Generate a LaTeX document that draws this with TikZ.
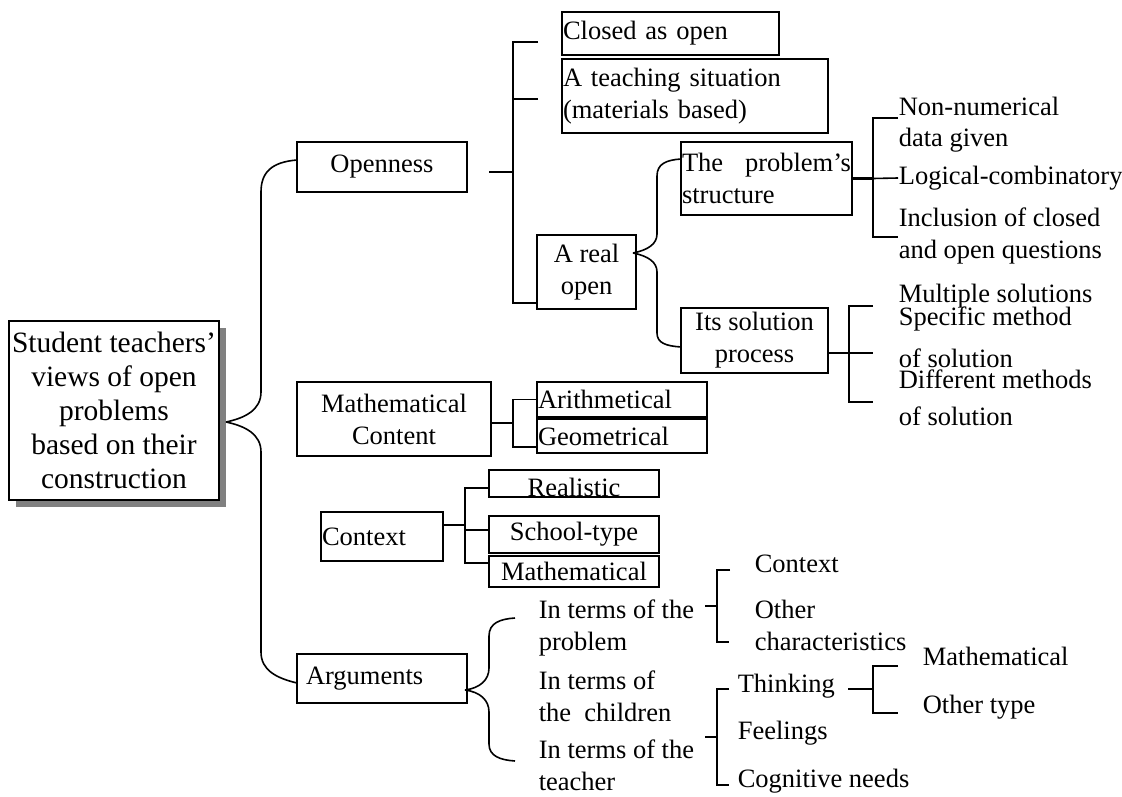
\documentclass[tikz,border=0pt]{standalone}
\usepackage{fontspec}
\setmainfont{Liberation Serif}
\usetikzlibrary{positioning,shadows}

\begin{document}
\begin{tikzpicture}[
    x = 1pt, y = -1pt, % one unit per pixel, y grows downwards
    line width = 1.6pt, % line style
    font = \fontsize{26.5}{32}\selectfont
    ]

    \tikzset{box/.style={
    draw = black,
    fill = white,
    inner xsep = 1pt,
    inner ysep = 0pt,
    outer sep = 0pt
    }}
    \tikzset{item/.style={
    inner sep = 0pt,
    anchor = base west, % base of the last line
    align = left
    }}
    \tikzset{stub/.style={line width = 2.4pt}}
    \useasboundingbox (0,0) rectangle (1122,797);

    % root
    \node[box, minimum width=210pt, minimum height=179pt, align=center,
      font=\fontsize{29.5}{34}\selectfont,
      drop shadow={shadow xshift=7pt, shadow yshift=-7pt, fill=black!50, opacity=1}]
      (root) at (114,410.5) {Student teachers'\\views of open\\problems\\based on their\\construction};

    % first level
    \node[box, minimum width=170pt, minimum height=50pt] (open) at (382,167) {Openness};
    \node[box, minimum width=194pt, minimum height=74pt, align=center] (mathc) at (394,419) {Mathematical\\Content};
    \node[box, minimum width=122pt, minimum height=49pt, text width=120pt, align=left] (ctx) at (382,536.5) {Context};
    \node[box, minimum width=170pt, minimum height=49pt, inner xsep=9pt, text width=152pt, align=left] (args) at (382,678.5) {Arguments};

    % openness
    \node[box, minimum width=217pt, minimum height=43pt, text width=215pt, align=left] (closed) at (670.5,33.5) {Closed as open};
    \node[box, minimum width=266pt, minimum height=74pt, text width=264pt, align=left, anchor=north west]
      (teach) at ([yshift=-4pt]closed.south west) {A teaching situation\\(materials based)};
    \node[box, minimum width=99pt, minimum height=74pt, align=center] (real) at (586.5,272) {A real\\open};
    \node[box, minimum width=171pt, minimum height=73pt, text width=169pt, align=left] (struct) at (766.5,178.5) {The\hfill problem's\\structure};
    \node[box, minimum width=147pt, minimum height=65pt, align=center] (solv) at (754.5,340.5) {Its solution\\process};

    \node[item] (nonnum) at (898,147) {Non-numerical\\data given};
    \node[item] (logic) at (898,185) {Logical-combinatory};
    \node[item] (incl) at (898,258) {Inclusion of closed\\and open questions};
    \node[item] (multi) at (898,302) {Multiple solutions};
    \node[item] (spec) at (898,367) {Specific method\\[10pt]of solution};
    \node[item] (diff) at (898,425) {Different methods\\[5pt]of solution};

    % content
    \node[box, minimum width=170pt, minimum height=35pt, text width=168pt, align=left] (arith) at (622,399.5) {Arithmetical};
    \node[box, minimum width=170pt, minimum height=34pt, text width=168pt, align=left] (geom) [below=2pt of arith] {Geometrical};

    % context
    \node[box, minimum width=170pt, minimum height=27pt] (realis) at (574,483.5) {\raisebox{-12.5pt}[0pt][0pt]{Realistic}};
    \node[box, minimum width=170pt, minimum height=37pt] (school) at (574,534.5) {School-type};
    \node[box, minimum width=170pt, minimum height=31pt, text depth=0pt] (mathx) [below=3pt of school] {Mathematical};

    % arguments
    \node[item] (prob) at (538,650) {In terms of the\\problem};
    \node[item] (child) at (538,721) {In terms of\\the~ children};
    \node[item] (teacher) at (538,790) {In terms of the\\teacher};
    \node[item] (ctxa) at (754,572) {Context};
    \node[item] (other) at (754,650) {Other\\characteristics};
    \node[item] (think) at (737,692) {Thinking};
    \node[item] (feel) at (737,739) {Feelings};
    \node[item] (cogn) at (737,787) {Cognitive needs};
    \node[item] (mathy) at (922,665) {Mathematical};
    \node[item] (othert) at (922,713) {Other type};

    % braces
    \draw ([shift={(7,11.5)}]root.east) .. controls (245,418) and (261,410) .. (261,392)
      -- (261,192) .. controls (261,172) and (272,162) .. ([yshift=7pt]open.west);
    \draw ([shift={(7,11.5)}]root.east) .. controls (245,426) and (261,434) .. (261,452)
      -- (261,652) .. controls (261,670) and (276,678) .. ([yshift=-4.5pt]args.west);
    \draw ([shift={(-3,-19)}]real.east) .. controls (648,250) and (657,244) .. (657,234)
      -- (657,176) .. controls (657,164) and (666,160) .. ([yshift=19.5pt]struct.west);
    \draw ([shift={(-3,-19)}]real.east) .. controls (648,256) and (657,262) .. (657,272)
      -- (657,333) .. controls (657,343) and (666,346) .. ([yshift=-6.5pt]solv.west);
    \draw ([shift={(-2,11.5)}]args.east) .. controls (480,688) and (489,680) .. (489,668)
      -- (489,636) .. controls (489,623) and (500,619) .. ([shift={(-23,-32)}]prob.base west);
    \draw ([shift={(-2,11.5)}]args.east) .. controls (480,692) and (489,700) .. (489,712)
      -- (489,744) .. controls (489,756) and (500,760) .. ([shift={(-23,-29)}]teacher.base west);

    % brackets
    \coordinate (ob) at (513,172);
    \draw[stub] ([shift={(22,5)}]open.east) -- (ob);
    \draw ([shift={(-24,8.5)}]closed.west) -| (ob) |- ([yshift=-31pt]real.west);
    \draw ([shift={(-24,3)}]teach.west) -- +(-25,0);

    \draw[stub] (struct.east) -- ++(21,0) coordinate (sb);
    \draw ([shift={(0,-29)}]nonnum.base west) -| (sb) |- ([shift={(0,-21)}]incl.base west);
    \draw (sb) -- ([shift={(0,-7)}]logic.base west);

    \draw[stub] ([yshift=-12.5pt]solv.east) -- ++(21,0) coordinate (pb);
    \draw ([shift={(-25,4)}]multi.base west) -| (pb) |- ([shift={(-25,-23)}]diff.base west);
    \draw (pb) -- ([shift={(-25,-14)}]spec.base west);

    \draw[stub] ([yshift=-4pt]mathc.east) -- ++(22,0) coordinate (mb);
    \draw (arith.west) -| (mb) |- ([yshift=-11pt]geom.west);

    \draw[stub] ([yshift=11.5pt]ctx.east) -- ++(22,0) coordinate (cb);
    \draw ([yshift=-4.5pt]realis.west) -| (cb) |- ([yshift=8.5pt]mathx.west);
    \draw ([yshift=4.5pt]school.west) -- ++(-24,0);

    \coordinate (pa) at (717,606);
    \draw[stub] (pa) -- ++(-12,0);
    \draw ([shift={(-24,-2)}]ctxa.base west) -| (pa) |- ([shift={(-25,-8)}]other.base west);

    \coordinate (ca) at (717,737);
    \draw[stub] (ca) -- ++(-12,0);
    \draw ([shift={(-8,-3)}]think.base west) -| (ca) |- ([shift={(-8,-2)}]cogn.base west);

    \coordinate (tb) at (873,689);
    \draw[stub] (tb) -- ++(-25,0);
    \draw ([shift={(-24,1)}]mathy.base west) -| (tb) |- ([xshift=-24pt]othert.base west);
\end{tikzpicture}
\end{document}
